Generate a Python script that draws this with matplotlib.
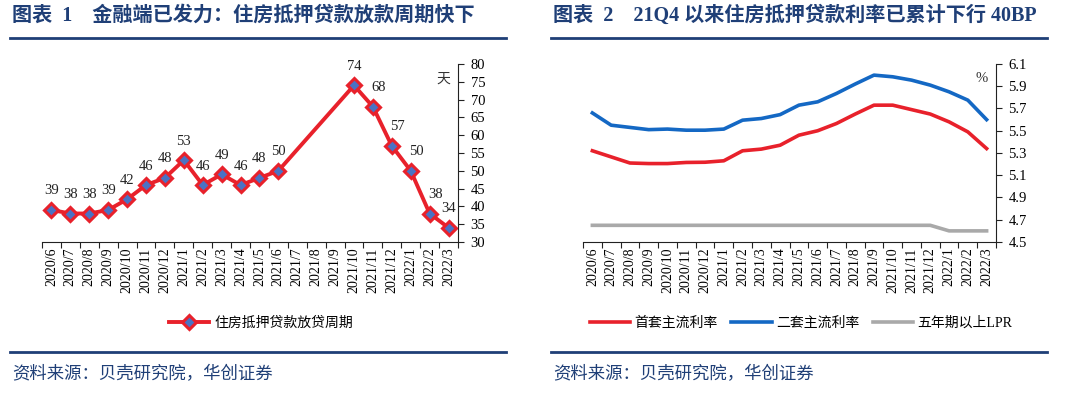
import numpy as np
import matplotlib
matplotlib.use("Agg")
import matplotlib.pyplot as plt
from matplotlib.lines import Line2D

plt.rcParams['font.family'] = ['Liberation Serif', 'Noto Sans CJK SC', 'DejaVu Sans']

months = ['2020/6', '2020/7', '2020/8', '2020/9', '2020/10', '2020/11', '2020/12',
          '2021/1', '2021/2', '2021/3', '2021/4', '2021/5', '2021/6', '2021/7',
          '2021/8', '2021/9', '2021/10', '2021/11', '2021/12', '2022/1', '2022/2', '2022/3']

# 放贷周期 (天), no data for 2021/7-9
cycle_days = [39, 38, 38, 39, 42, 46, 48, 53, 46, 49, 46, 48, 50,
              None, None, None, 74, 68, 57, 50, 38, 34]

first_rate = [5.32, 5.265, 5.21, 5.205, 5.205, 5.215, 5.217, 5.23, 5.32, 5.335, 5.37,
              5.46, 5.50, 5.565, 5.65, 5.73, 5.73, 5.69, 5.65, 5.58, 5.49, 5.34]
second_rate = [5.66, 5.55, 5.53, 5.51, 5.515, 5.505, 5.505, 5.515, 5.595, 5.61, 5.645,
               5.73, 5.76, 5.835, 5.92, 6.0, 5.985, 5.955, 5.91, 5.85, 5.775, 5.60]
lpr = [4.65] * 19 + [4.60, 4.60, 4.60]

title_color = '#1F3F77'
red = '#E8212B'
blue = '#1468C4'
gray = '#A9A9A9'

fig = plt.figure(figsize=(10.8, 3.97), dpi=100)

# titles, rules, sources
fig.text(12 / 1080, 1 - 16 / 397, '图表  1    金融端已发力：住房抵押贷款放款周期快下',
         fontsize=14.5, fontweight='bold', color=title_color, va='center',
         family=['Liberation Serif', 'Noto Sans CJK SC'])
fig.text(553 / 1080, 1 - 16 / 397, '图表  2    21Q4 以来住房抵押贷款利率已累计下行 40BP',
         fontsize=14.5, fontweight='bold', color=title_color, va='center',
         family=['Liberation Serif', 'Noto Sans CJK SC'])
for x0, x1 in [(10, 506), (551, 1047)]:
    for yy in [38, 352]:
        fig.add_artist(Line2D([x0 / 1080, x1 / 1080], [1 - yy / 397, 1 - yy / 397],
                              color=title_color, lw=2))
for x0 in [12, 553]:
    fig.text(x0 / 1080, 1 - 374 / 397, '资料来源：贝壳研究院，华创证券', fontsize=12.5,
             color=title_color, va='center', family=['Noto Sans CJK SC'])

x = np.arange(len(months))


def style_axes(ax):
    ax.set_xlim(-0.5, len(months) - 0.5)
    for s in ['top', 'left']:
        ax.spines[s].set_visible(False)
    ax.spines['bottom'].set_color('#222222')
    ax.spines['right'].set_color('#222222')
    ax.yaxis.tick_right()
    ax.set_xticks(np.arange(len(months) + 1) - 0.5)
    ax.set_xticklabels([])
    ax.set_xticks(x, minor=True)
    ax.set_xticklabels(months, minor=True, rotation=90, fontsize=10)
    ax.tick_params(axis='x', which='major', length=4, direction='out', color='#222222')
    ax.tick_params(axis='x', which='minor', length=0, pad=4)
    ax.tick_params(axis='y', length=4, direction='out', labelsize=10.5, pad=5, color='#222222')


# left chart
ax1 = fig.add_axes([42 / 1080, 1 - 242 / 397, 416 / 1080, 178 / 397])
style_axes(ax1)
vx = [i for i, v in enumerate(cycle_days) if v is not None]
vy = [v for v in cycle_days if v is not None]
ax1.plot(vx, vy, color=red, lw=2.8, marker='D', markersize=7,
         markerfacecolor='#4A72C4', markeredgecolor=red, markeredgewidth=2.2)
for i, v in zip(vx, vy):
    dx = 4 if 17 <= i <= 20 else 0
    ax1.annotate(str(v), (i, v), xytext=(dx, 9), textcoords='offset points',
                 ha='center', va='bottom', fontsize=10.5, color='#222222')
ax1.set_ylim(30, 80)
ax1.set_yticks(np.arange(30, 81, 5))
ax1.text(0.965, 0.92, '天', transform=ax1.transAxes, fontsize=10, ha='center',
         va='center', color='#333333', family=['Noto Sans CJK SC'])
leg1 = Line2D([], [], color=red, lw=2.8, marker='D', markersize=7,
              markerfacecolor='#4A72C4', markeredgecolor=red, markeredgewidth=2.2)
fig.legend([leg1], ['住房抵押贷款放贷周期'], loc='center', bbox_to_anchor=(261 / 1080, 1 - 323 / 397),
           frameon=False, handlelength=2.9, handletextpad=0.4,
           prop={'family': ['Noto Sans CJK SC'], 'size': 10})

# right chart
ax2 = fig.add_axes([583 / 1080, 1 - 242 / 397, 413 / 1080, 178 / 397])
style_axes(ax2)
ax2.plot(x, first_rate, color=red, lw=2.6)
ax2.plot(x, second_rate, color=blue, lw=2.6)
ax2.plot(x, lpr, color=gray, lw=2.6)
ax2.set_ylim(4.5, 6.1)
ax2.set_yticks(np.round(np.arange(4.5, 6.11, 0.2), 1))
ax2.text(0.965, 0.92, '%', transform=ax2.transAxes, fontsize=10.5, ha='center',
         va='center', color='#333333')
handles = [Line2D([], [], color=c, lw=2.6) for c in [red, blue, gray]]
fig.legend(handles, ['首套主流利率', '二套主流利率', '五年期以上LPR'], loc='center',
           bbox_to_anchor=(801 / 1080, 1 - 323 / 397), ncol=3, frameon=False,
           handlelength=2.9, handletextpad=0.3, columnspacing=1.0,
           prop={'family': ['Liberation Serif', 'Noto Sans CJK SC'], 'size': 10})

fig.savefig('out.png', dpi=100)
